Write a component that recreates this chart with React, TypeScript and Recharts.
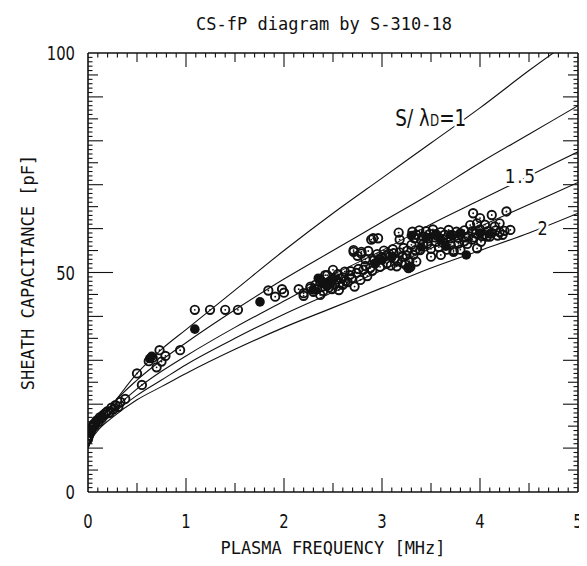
import React from 'react';
import { ComposedChart, Line, Scatter, XAxis, YAxis, ReferenceDot, Label } from 'recharts';

// labelled ticks
const xLabels = [0, 1, 2, 3, 4, 5];
const yLabels = [0, 50, 100];

const curveF = [0, 0.05, 0.1, 0.25, 0.5, 0.75, 1, 1.5, 2, 2.5, 3, 3.5, 4, 4.5, 5];
const curveS100 = [10, 14, 16, 20, 27, 32.5, 37, 46, 55, 63.5, 71.5, 79.5, 87.5, 96, 104];
const curveS125 = [10, 13.5, 15.5, 20, 25.5, 30, 34, 41.5, 48.5, 55, 61.5, 68, 75, 81.5, 88];
const curveS150 = [10, 13, 15, 18.5, 23.5, 27.5, 31, 37.5, 43.5, 49.5, 55, 61, 66.5, 72, 77.5];
const curveS175 = [10, 12.8, 14.5, 17.7, 22, 25.5, 29, 35, 40.5, 45.5, 50.5, 55.5, 60.5, 65.5, 70.5];
const curveS200 = [10, 12.5, 14, 17, 21, 24, 27, 32.5, 37.5, 42, 46.5, 51, 55, 59, 63.5];

// measured points [fP MHz, C pF], open markers
const openPts: [number, number][] = [
  [0.0, 12.0], [0.02, 13.5], [0.04, 14.8], [0.06, 15.5], [0.09, 16.3], [0.12, 17.0], [0.16, 17.6],
  [0.2, 18.4], [0.24, 19.2], [0.28, 19.8], [0.33, 20.5], [0.38, 21.2], [0.01, 12.8], [0.03, 14.0],
  [0.07, 15.2], [0.11, 16.0], [0.14, 16.8], [0.18, 18.0], [0.22, 18.0], [0.26, 18.8], [0.31, 19.4],
  [0.5, 27.0], [0.55, 24.4], [0.62, 29.8], [0.66, 30.6], [0.7, 28.4], [0.73, 32.3], [0.75, 29.7],
  [0.79, 31.0], [0.94, 32.3],
  [1.09, 41.5], [1.245, 41.5], [1.4, 41.5], [1.53, 41.5],
  [1.84, 45.9], [1.91, 44.5], [1.98, 46.2], [2.0, 45.4], [2.15, 46.2], [2.2, 45.3], [2.27, 46.8], [2.2, 44.7],
  [2.27, 46.4], [2.32, 47.2], [2.37, 47.9], [2.37, 44.9], [2.4, 45.8], [2.42, 47.5], [2.42, 49.4],
  [2.44, 49.4], [2.46, 46.6], [2.48, 48.2], [2.5, 50.6], [2.52, 47.3], [2.55, 49.6], [2.56, 46.0],
  [2.58, 48.6], [2.6, 47.2], [2.6, 48.9], [2.62, 50.2], [2.65, 47.8], [2.67, 49.4], [2.69, 48.7],
  [2.72, 46.8], [2.74, 49.9], [2.78, 48.3], [2.81, 50.6], [2.85, 49.2], [2.88, 51.0],
  [2.3, 45.6], [2.34, 46.2], [2.39, 46.8], [2.44, 47.0], [2.49, 46.2], [2.53, 48.4], [2.57, 47.6],
  [2.63, 48.1], [2.68, 50.3], [2.76, 50.8], [2.83, 51.5], [2.9, 50.4], [2.92, 52.8],
  [2.71, 54.7], [2.71, 55.1], [2.75, 53.8], [2.79, 54.3], [2.79, 54.7], [2.83, 53.0], [2.86, 54.9],
  [2.89, 57.5], [2.91, 57.8], [2.93, 52.1], [2.95, 54.2], [2.96, 57.8], [2.98, 51.3], [3.0, 53.5],
  [3.02, 55.0], [3.05, 52.1], [3.07, 54.3], [3.09, 51.6], [3.11, 55.3], [3.13, 53.2], [3.15, 51.4],
  [3.17, 59.1], [3.18, 57.5], [3.18, 54.6], [3.2, 52.3], [3.22, 55.6], [3.24, 51.8], [3.25, 53.9],
  [3.27, 51.0], [3.29, 51.3], [3.3, 56.3], [2.97, 53.0], [3.04, 53.8], [3.12, 54.4], [3.16, 52.6],
  [3.21, 53.6], [3.26, 55.0], [3.28, 52.6], [3.32, 54.0],
  [3.31, 59.3], [3.35, 58.6], [3.38, 59.6], [3.42, 58.2], [3.45, 59.4], [3.49, 58.8], [3.52, 59.8],
  [3.56, 58.4], [3.6, 59.2], [3.64, 58.6], [3.68, 59.7], [3.72, 58.5], [3.76, 59.3], [3.8, 58.7],
  [3.84, 59.6], [3.88, 58.3], [3.92, 59.4], [3.96, 58.9], [4.0, 59.8], [4.04, 58.6], [4.08, 59.4],
  [4.12, 59.0], [4.16, 59.6], [4.2, 59.2], [4.25, 59.5], [4.31, 59.7], [3.33, 57.8], [3.4, 57.4],
  [3.47, 57.8], [3.54, 58.0], [3.62, 57.6], [3.7, 57.8], [3.78, 57.9], [3.86, 58.0], [3.94, 58.0],
  [4.02, 58.3], [4.1, 58.2], [4.18, 58.4], [4.23, 58.6],
  [3.34, 55.1], [3.39, 55.1], [3.42, 56.5], [3.46, 56.5], [3.5, 55.4], [3.55, 57.0], [3.58, 55.8],
  [3.62, 56.8], [3.66, 55.2], [3.7, 56.3], [3.73, 54.7], [3.73, 55.1], [3.78, 56.6], [3.8, 55.2],
  [3.84, 57.1], [3.87, 56.5], [3.92, 57.5], [3.97, 55.5], [4.01, 57.0], [4.07, 58.2],
  [3.93, 63.5], [4.0, 62.4], [3.97, 61.2], [4.12, 63.1], [4.2, 61.2], [4.27, 63.9], [3.9, 60.8],
  [4.05, 60.9], [4.15, 60.5],
  [3.5, 53.6], [3.6, 54.0], [3.35, 52.5],
];

// filled markers
const filledPts: [number, number][] = [
  [0.03, 14.2], [0.08, 16.0], [0.14, 17.3], [0.63, 30.4], [0.65, 30.9], [1.09, 37.1], [1.755, 43.3],
  [2.35, 48.7], [2.38, 48.2], [2.93, 52.1], [3.28, 51.2], [3.86, 54.0], [2.45, 47.2], [2.5, 48.6],
  [3.1, 53.5], [3.45, 58.0], [3.7, 58.6], [4.1, 58.8], [2.3, 46.0], [3.0, 52.8], [3.6, 57.5],
  [3.3, 58.4], [3.55, 58.8], [3.8, 59.0], [4.0, 59.0], [3.4, 55.8], [3.65, 56.0],
];

const ink = '#111';
const mono = "'DejaVu Sans Mono', 'Liberation Mono', monospace";
const sans = "'DejaVu Sans', sans-serif";

const W = 579;
const H = 558;

// positions of the small inward tick marks along the frame
const range = (from: number, to: number, step: number) => {
  const out: number[] = [];
  for (let v = from; v <= to + 1e-9; v += step) out.push(Math.round(v * 1000) / 1000);
  return out;
};
const xMarks = range(0.1, 4.9, 0.1);
const yMarks = range(1, 99, 1);
const xMarkLen = (v: number) => (Math.abs(v - Math.round(v)) < 1e-6 ? 14 : Math.abs((v % 1) - 0.5) < 1e-6 ? 9 : 4.5);
const yMarkLen = (v: number) => (v === 50 ? 25 : v % 10 === 0 ? 15 : v % 5 === 0 ? 10 : 4.5);

const bottomMarks = xMarks.map((v) => ({ x: v, y: 0, len: xMarkLen(v) }));
const topMarks = xMarks.map((v) => ({ x: v, y: 100, len: xMarkLen(v) }));
const leftMarks = yMarks.map((v) => ({ x: 0, y: v, len: yMarkLen(v) }));
const rightMarks = yMarks.map((v) => ({ x: 5, y: v, len: yMarkLen(v) }));

const toRows = (ys: number[]) => curveF.map((f, i) => ({ x: f, y: ys[i] }));
const toPts = (pts: [number, number][]) => pts.map(([x, y]) => ({ x, y }));

const OpenMark = (p: any) => (
  <g>
    <circle cx={p.cx} cy={p.cy} r={4.2} fill="none" stroke={ink} strokeWidth={1.9} />
    <circle cx={p.cx} cy={p.cy} r={0.9} fill={ink} />
  </g>
);
const FilledMark = (p: any) => <circle cx={p.cx} cy={p.cy} r={4.8} fill={ink} />;

// a short tick drawn from the frame edge inward
const edgeMark = (dx: number, dy: number) => (p: any) => {
  const len = (p.payload && p.payload.len) || p.len || 4.5;
  return (
    <line
      x1={p.cx}
      y1={p.cy}
      x2={p.cx + dx * len}
      y2={p.cy + dy * len}
      stroke={ink}
      strokeWidth={1.1}
    />
  );
};

// tall, narrow digits like the plotter font
const NarrowTick = (p: any) => {
  const dy = p.orientation === 'bottom' ? '0.71em' : '0.35em';
  return (
    <g transform={`translate(${p.x},${p.y}) scale(0.74,1)`}>
      <text x={0} y={0} dy={dy} textAnchor={p.textAnchor} fontSize={20} fontFamily={sans} fill={ink}>
        {p.payload.value}
      </text>
    </g>
  );
};

const curveText = (content: React.ReactNode, size: number, sx: number, spacing = 0) => (p: any) => (
  <g transform={`translate(${p.cx},${p.cy}) scale(${sx},1)`}>
    <text
      x={0}
      y={0}
      textAnchor="end"
      fontSize={size}
      fontFamily={sans}
      letterSpacing={spacing}
      fill={ink}
      stroke="#fff"
      strokeWidth={6}
      strokeLinejoin="round"
      paintOrder="stroke"
    >
      {content}
    </text>
  </g>
);

const frame = { stroke: ink, strokeWidth: 1.6 };

export default function App() {
  const curves = [curveS100, curveS125, curveS150, curveS175, curveS200];
  const marks = [
    { data: bottomMarks, shape: edgeMark(0, -1) },
    { data: topMarks, shape: edgeMark(0, 1) },
    { data: leftMarks, shape: edgeMark(1, 0) },
    { data: rightMarks, shape: edgeMark(-1, 0) },
  ];

  return (
    <div style={{ position: 'relative', width: W, height: H, background: '#fff' }}>
      <div
        style={{
          position: 'absolute',
          left: 116,
          width: 400,
          top: 4,
          textAlign: 'center',
          fontFamily: mono,
          fontSize: 17,
          lineHeight: '24px',
          color: ink,
        }}
      >
        CS-fP diagram by S-310-18
      </div>
      <ComposedChart width={W} height={H} margin={{ top: 45, right: 9, bottom: 8, left: 10 }}>
        <XAxis
          xAxisId="x"
          type="number"
          dataKey="x"
          domain={[0, 5]}
          allowDataOverflow
          ticks={xLabels}
          interval={0}
          tickSize={0}
          tickMargin={22}
          tickLine={false}
          axisLine={frame}
          tick={(p: any) => <NarrowTick {...p} orientation="bottom" />}
          height={66}
        >
          <Label
            value="PLASMA FREQUENCY [MHz]"
            position="insideBottom"
            offset={4}
            style={{ fontFamily: mono, fontSize: 17, fill: ink }}
          />
        </XAxis>
        <YAxis
          yAxisId="y"
          type="number"
          dataKey="y"
          domain={[0, 100]}
          allowDataOverflow
          ticks={yLabels}
          interval={0}
          tickSize={0}
          tickMargin={13}
          tickLine={false}
          axisLine={frame}
          tick={(p: any) => <NarrowTick {...p} orientation="left" />}
          width={70}
        >
          <Label
            value="SHEATH CAPACITANCE [pF]"
            angle={-90}
            position="insideLeft"
            offset={10}
            style={{ fontFamily: mono, fontSize: 17, fill: ink, textAnchor: 'middle' }}
          />
        </YAxis>
        {/* top and right edges of the frame */}
        <XAxis
          xAxisId="top"
          orientation="top"
          mirror
          type="number"
          domain={[0, 5]}
          allowDataOverflow
          tick={false}
          tickLine={false}
          axisLine={frame}
          height={0.01}
        />
        <YAxis
          yAxisId="right"
          orientation="right"
          mirror
          type="number"
          domain={[0, 100]}
          allowDataOverflow
          tick={false}
          tickLine={false}
          axisLine={frame}
          width={0.01}
        />

        {marks.map((m, i) => (
          <Scatter
            key={`marks${i}`}
            xAxisId="x"
            yAxisId="y"
            data={m.data}
            dataKey="y"
            shape={m.shape}
            isAnimationActive={false}
          />
        ))}

        {curves.map((ys, i) => (
          <Line
            key={i}
            xAxisId="x"
            yAxisId="y"
            data={toRows(ys)}
            dataKey="y"
            type="monotone"
            stroke={ink}
            strokeWidth={1.1}
            dot={false}
            activeDot={false}
            isAnimationActive={false}
          />
        ))}

        <Scatter
          xAxisId="x"
          yAxisId="y"
          data={toPts(openPts)}
          dataKey="y"
          shape={OpenMark}
          isAnimationActive={false}
        />
        <Scatter
          xAxisId="x"
          yAxisId="y"
          data={toPts(filledPts)}
          dataKey="y"
          shape={FilledMark}
          isAnimationActive={false}
        />

        <ReferenceDot
          xAxisId="x"
          yAxisId="y"
          x={3.86}
          y={83.4}
          r={0}
          shape={curveText(
            <>
              S/ λ<tspan fontSize={15}>D</tspan>=1
            </>,
            23,
            0.8
          )}
        />
        <ReferenceDot xAxisId="x" yAxisId="y" x={4.58} y={70.4} r={0} shape={curveText('1.5', 20, 0.85, 2)} />
        <ReferenceDot xAxisId="x" yAxisId="y" x={4.69} y={58.5} r={0} shape={curveText('2', 20, 0.8)} />
      </ComposedChart>
    </div>
  );
}
